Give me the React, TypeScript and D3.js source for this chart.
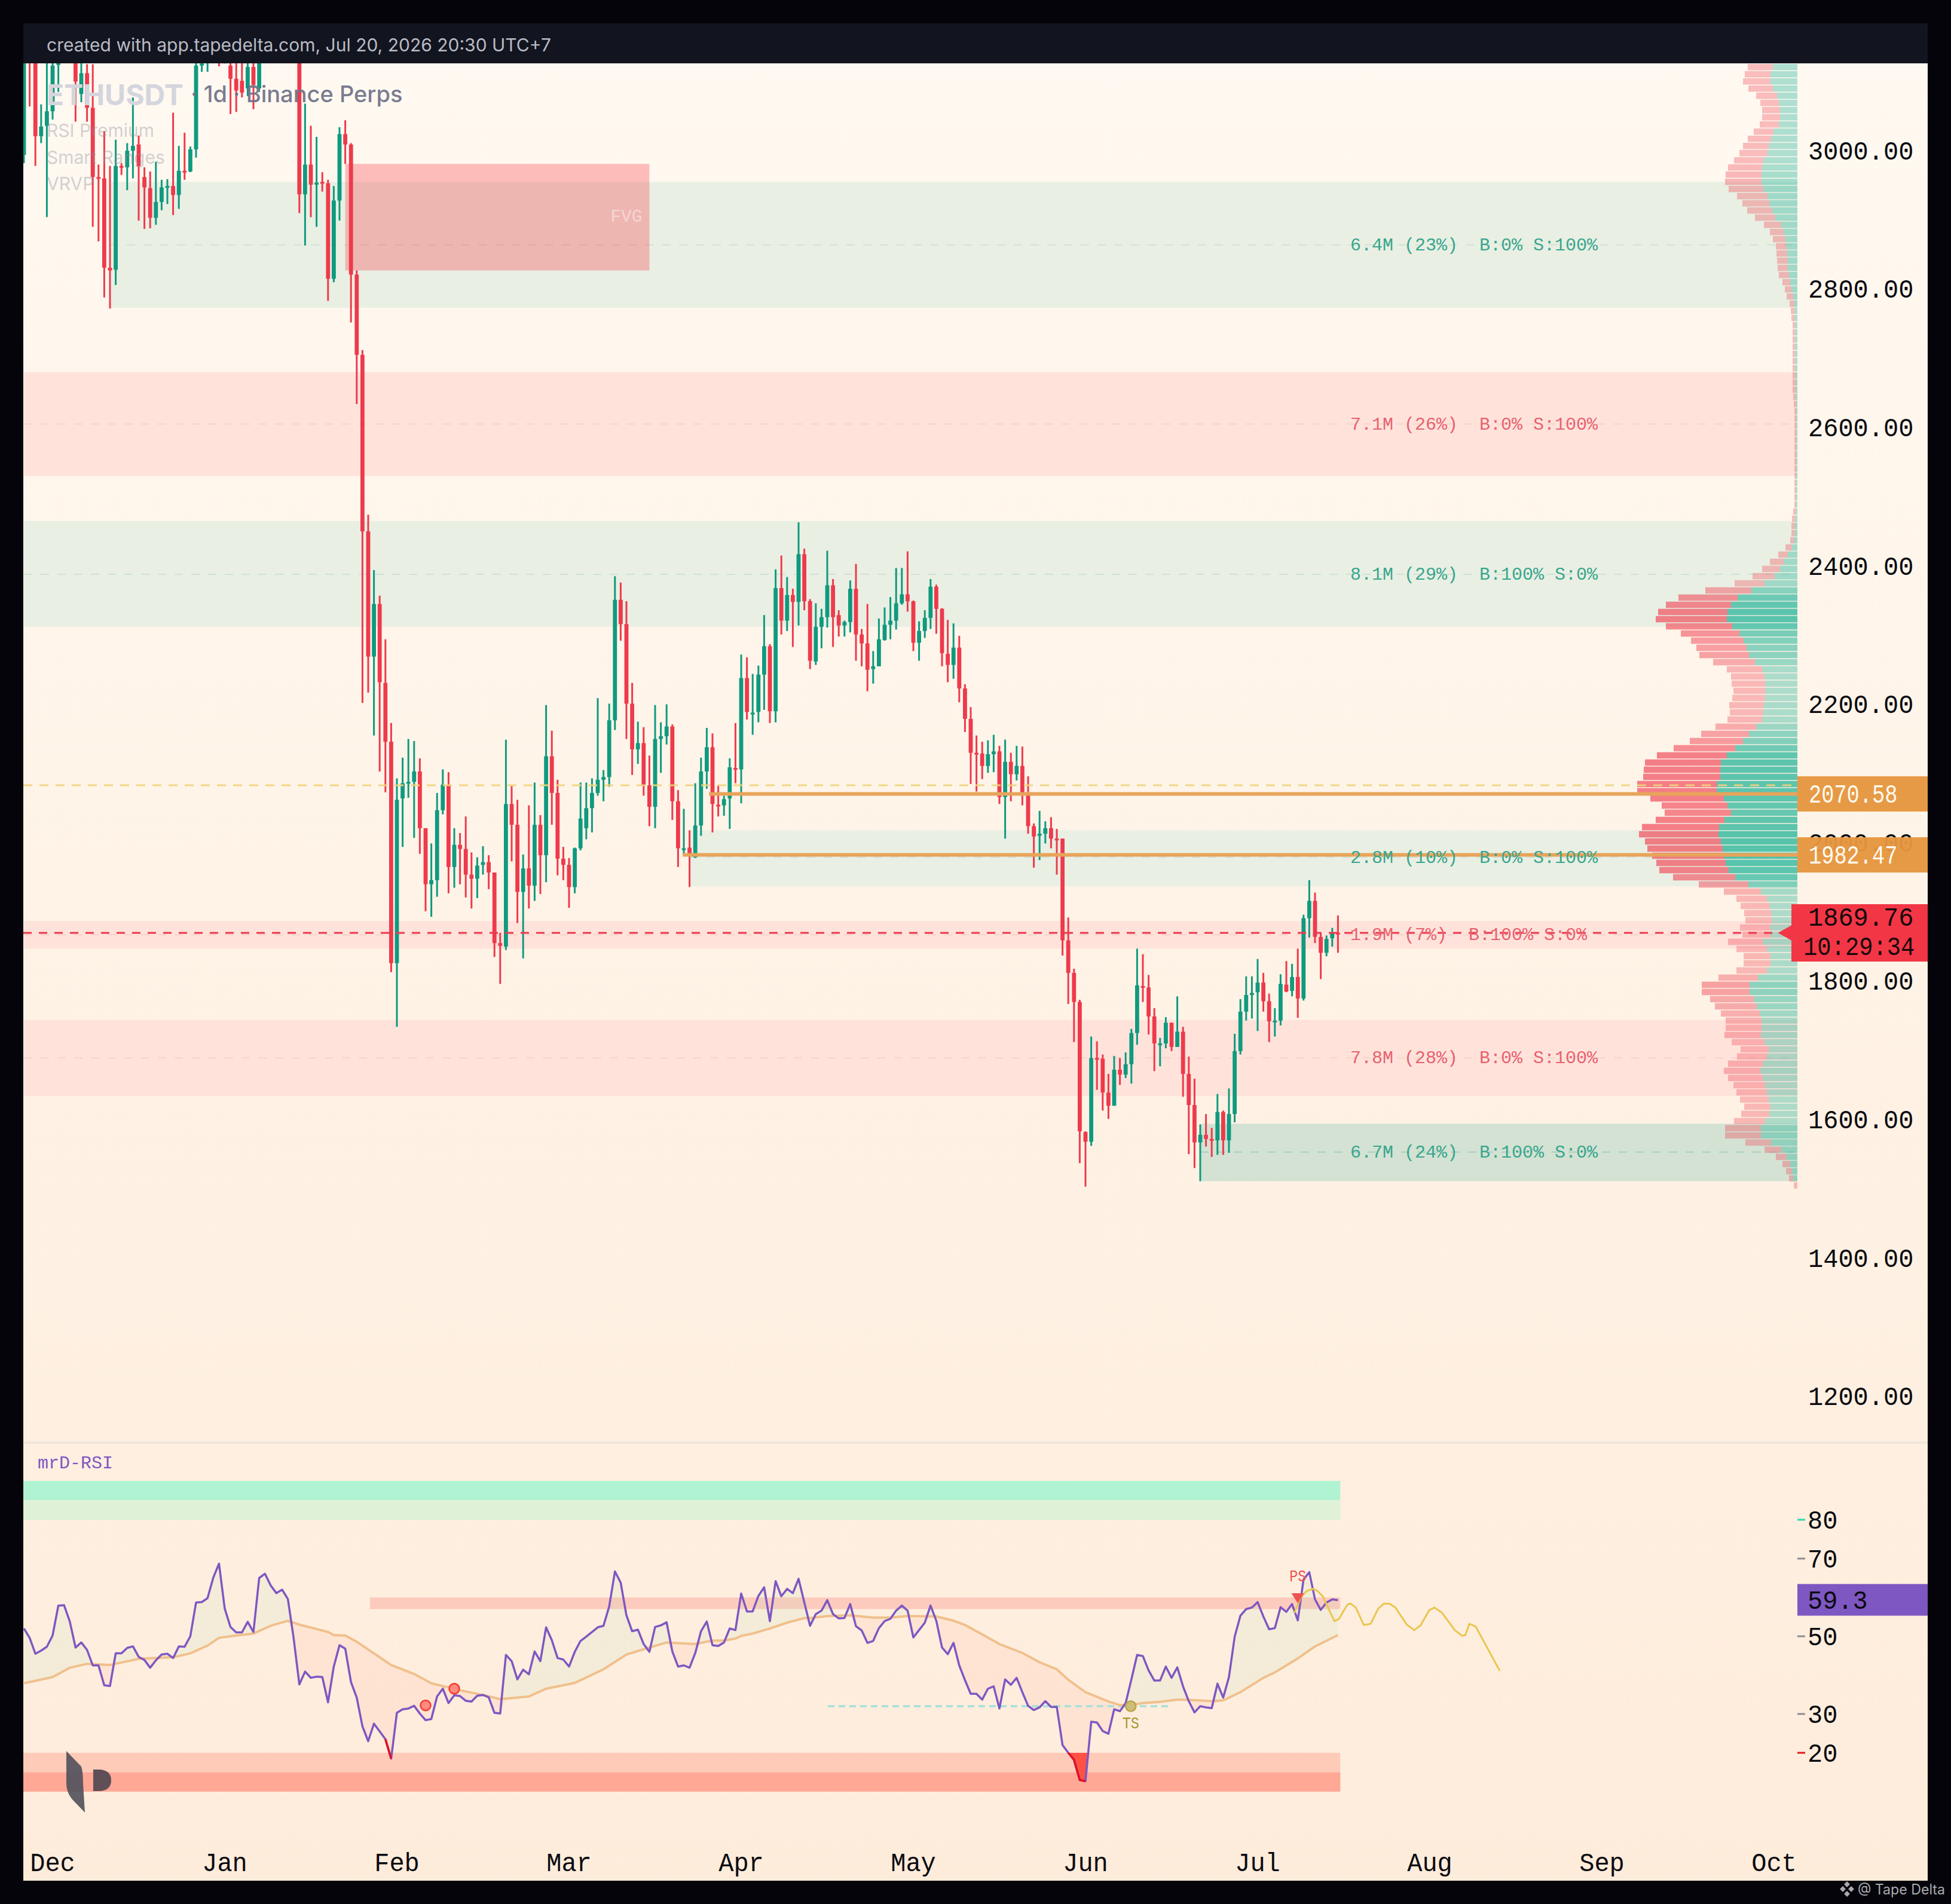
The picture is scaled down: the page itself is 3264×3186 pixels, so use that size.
import React from "react";
import * as d3 from "d3";

const W = 3264, H = 3186;

// ---------- candles (one entry per daily bar, USDT) ----------
const opens = [2994,3140,3135,3021,3036,3057,3124,3180,3150,3140,3082,3112,3062,2962,2960,2831,2828,2978,2976,3000,3009,2962,2946,2903,2926,2948,2949,2936,2971,2970,3002,3123,3128,3140,3135,3128,3123,3104,3101,3090,3121,3090,3135,3170,3200,3185,3170,3190,3160,2937,2980,2951,2955,2953,2815,2928,3024,3009,2821,2705,
2450,2269,2345,2231,2146,1826,2064,2087,2088,2103,2021,1940,1946,2047,2084,1965,1997,1991,1954,1948,1968,1972,1957,1855,1850,2056,2026,1929,1963,1938,2026,1982,2125,2072,1977,1968,1936,1992,2021,2050,2072,2091,2095,2177,2351,2316,2201,2135,2144,2083,2052,2150,2154,2168,2060,1990,1993,1979,2025,2103,2138,2055,2054,2064,2108,2106,2238,2186,2189,2243,2284,2190,2368,2321,2358,2348,2417,2349,2262,2312,2326,2372,2329,2314,2319,2367,2301,2288,2251,2255,2293,2315,2321,2346,2359,2349,2289,2306,2325,2370,2338,2273,2257,2282,2223,2179,2130,2129,2111,2128,2132,2066,2117,2099,2111,2070,2024,2010,2013,2021,2006,2006,1859,1812,1770,1582,1568,1689,1688,1639,1620,1672,1665,1680,1725,1793,1791,1749,1708,1710,1740,1705,1727,1666,1621,1567,1578,1572,1570,1611,1570,1608,1699,1756,1780,1784,1798,1771,1742,1743,1795,1786,1806,1775,1891,1916,1864,1841,1862,1870];
const highs = [3135,3150,3140,3067,3130,3135,3150,3190,3190,3160,3130,3125,3125,2980,3028,2978,3016,2982,3011,3077,3022,2976,2970,2984,2958,2959,3055,3007,3026,3006,3130,3135,3150,3170,3150,3150,3140,3130,3130,3130,3130,3135,3180,3215,3230,3210,3205,3200,3175,3068,3036,3020,2969,2958,2949,3034,3044,3011,2827,2712,
2474,2394,2357,2294,2173,2093,2123,2150,2147,2122,2021,1999,2072,2106,2102,2021,2014,2038,1986,1979,1995,1982,1957,1870,2149,2082,2062,1983,2054,2087,2040,2199,2162,2091,1994,1978,1993,2087,2087,2093,2209,2105,2201,2385,2376,2349,2231,2175,2167,2126,2199,2174,2200,2171,2076,2049,2018,2086,2123,2166,2158,2083,2068,2122,2173,2272,2268,2244,2256,2329,2287,2395,2415,2384,2367,2463,2425,2352,2346,2338,2422,2381,2336,2321,2379,2403,2309,2345,2277,2324,2340,2355,2397,2397,2421,2350,2320,2336,2381,2373,2339,2322,2317,2299,2229,2196,2155,2146,2148,2156,2140,2149,2130,2140,2139,2096,2028,2046,2031,2037,2020,2006,1892,1818,1773,1583,1720,1713,1694,1666,1692,1689,1697,1731,1847,1839,1809,1761,1718,1748,1740,1778,1734,1691,1659,1593,1608,1588,1637,1613,1645,1724,1774,1807,1807,1832,1812,1782,1761,1810,1829,1825,1847,1896,1946,1928,1869,1866,1877,1895];
const lows = [2982,3064,2978,3011,2904,3045,3085,3130,3130,3042,3070,3042,2890,2869,2788,2772,2806,2965,2943,2960,2899,2887,2888,2893,2914,2923,2907,2916,2958,2969,2990,3114,3114,3130,3122,3126,3053,3056,3077,3079,3060,3085,3130,3160,3190,3160,3150,3150,2910,2863,2904,2890,2941,2783,2810,2899,2981,2752,2634,2202,
2217,2155,2103,2073,1813,1734,1994,2065,2007,1984,1901,1893,1922,2041,1927,1935,1940,1921,1905,1920,1954,1933,1835,1796,1845,1973,1884,1833,1905,1916,1926,1943,2026,1953,1946,1906,1927,1989,2005,2015,2068,2060,2081,2163,2292,2150,2098,2114,2068,2024,2021,2101,2142,2033,1965,1982,1936,1978,2010,2078,2015,2038,2039,2020,2086,2057,2178,2156,2174,2192,2173,2174,2301,2306,2283,2314,2336,2251,2257,2281,2311,2283,2298,2298,2304,2263,2255,2219,2230,2255,2292,2294,2308,2344,2334,2277,2263,2296,2309,2302,2255,2232,2237,2203,2160,2085,2074,2092,2101,2102,2056,2006,2060,2090,2054,2013,1964,1975,1999,1992,1954,1837,1767,1712,1537,1503,1562,1643,1613,1601,1620,1650,1660,1652,1708,1770,1723,1670,1677,1703,1699,1705,1633,1550,1530,1511,1561,1546,1549,1549,1552,1596,1694,1743,1746,1728,1756,1712,1720,1736,1784,1778,1747,1772,1863,1855,1803,1836,1850,1841];
const closes = [3130,3128,3021,3035,3057,3123,3135,3150,3175,3100,3112,3062,2962,2960,2831,2827,2978,2976,3000,3007,2978,2947,2903,2926,2947,2949,2936,2971,2970,3002,3123,3126,3140,3155,3128,3135,3104,3087,3084,3121,3095,3128,3170,3200,3185,3170,3190,3160,2937,2980,2951,2954,2953,2815,2928,3024,3009,2821,2705,2450,
2269,2345,2232,2146,1826,2062,2086,2088,2103,2021,1940,1946,2047,2084,1965,1997,1991,1954,1948,1967,1972,1957,1855,1851,2056,2026,1929,1963,1938,2026,1982,2125,2072,1977,1968,1936,1992,2035,2050,2072,2091,2095,2177,2351,2316,2201,2135,2144,2083,2052,2150,2154,2168,2060,1992,1992,1982,2025,2103,2138,2056,2054,2063,2109,2107,2238,2189,2188,2243,2284,2190,2368,2321,2358,2348,2417,2349,2263,2312,2326,2372,2326,2314,2319,2367,2301,2288,2250,2255,2294,2315,2321,2346,2359,2349,2289,2306,2325,2370,2338,2274,2257,2282,2223,2179,2130,2128,2111,2128,2132,2066,2117,2099,2111,2072,2024,2009,2013,2021,2006,2004,1859,1812,1770,1583,1568,1689,1687,1639,1620,1672,1665,1680,1725,1794,1791,1749,1710,1710,1740,1705,1727,1666,1621,1567,1578,1572,1570,1611,1570,1608,1699,1756,1780,1783,1798,1771,1742,1743,1796,1785,1806,1775,1891,1916,1864,1841,1861,1870,1869.76];

// ---------- volume zones ----------
const zoneStart = [15, 0, 0, 116, 0, 0, 205];
const zoneTop = [2955, 2680, 2465, 2018, 1887, 1744, 1594];
const zoneBottom = [2773, 2530, 2312, 1937, 1847, 1634, 1511];
const zoneMid = [2864, 2605, 2388, 1979, 1867, 1689, 1553];
const zoneKind = ["bull", "bear", "bull", "bull", "bear", "bear", "bull2"];
const zoneLabels = [
  "6.4M (23%)  B:0% S:100%",
  "7.1M (26%)  B:0% S:100%",
  "8.1M (29%)  B:100% S:0%",
  "2.8M (10%)  B:0% S:100%",
  "1.9M (7%)  B:100% S:0%",
  "7.8M (28%)  B:0% S:100%",
  "6.7M (24%)  B:100% S:0%",
];

// ---------- volume profile: one row per price bin, thousands of contracts ----------
const profileTopPrice = 3125.4;
const profileBinSize = 10.36;
const profileBuy = [41,45,45,41,34,31,29,29,31,40,44,48,50,57,59,60,60,57,50,47,42,37,27,23,20,18,17,16,16,14,12,10,7,5,5,5,4,4,4,4,4,4,4,4,4,4,4,3,3,3,3,3,3,3,3,3,3,3,3,3,3,3,3,4,4,4,5,9,16,23,29,38,55,77,100,111,117,118,109,97,90,85,81,71,59,55,54,54,54,56,57,59,69,81,91,104,118,128,129,129,135,135,123,117,111,122,131,132,128,125,122,120,115,104,82,61,51,46,44,43,46,45,58,51,45,45,51,66,80,80,73,68,63,60,60,61,55,48,51,58,62,58,54,51,48,45,47,54,61,61,44,27,18,12,9,7,0];
const profileSell = [42,43,46,41,35,31,30,30,32,33,39,43,47,49,57,60,61,58,51,45,42,34,29,23,21,18,18,18,17,17,13,11,11,8,6,5,4,4,4,4,4,4,4,4,4,4,3,3,2,2,2,2,2,2,2,2,2,2,2,2,2,2,4,5,6,6,7,11,16,23,30,37,50,77,99,109,116,119,111,98,88,84,83,70,59,56,56,53,55,58,56,58,68,80,89,103,117,127,128,129,133,133,123,110,111,115,129,133,127,126,121,116,116,104,83,62,51,49,45,44,50,47,58,51,45,45,51,66,80,80,73,70,65,60,60,61,55,47,50,58,61,58,53,51,48,44,47,52,60,60,43,28,18,13,10,7,6];

// ---------- levels ----------
const fvgStart = 56, fvgEnd = 109, fvgTop = 2981, fvgBottom = 2827;
const orderLevels = [2070.58, 1982.47];
const orderStarts = [119.4, 114.8];
const yellowLevel = 2083;
const lastPrice = 1869.76;
const countdown = "10:29:34";
const priceTicks = [3000, 2800, 2600, 2400, 2200, 2000, 1800, 1600, 1400, 1200];

// ---------- time axis ----------
const monthLabels = ["Dec", "Jan", "Feb", "Mar", "Apr", "May", "Jun", "Jul", "Aug", "Sep", "Oct"];
const monthIndex = [5, 35, 65, 95, 125, 155, 185, 215, 245, 275, 305];

// ---------- RSI ----------
const rsi = [52,49.6,45.5,46.3,47.3,50.2,57.9,58,53.8,47.1,48.4,46.5,42.5,42.5,37.4,37.2,45.6,45.6,47,47.4,44.7,43.9,41.9,43.8,45.3,45.5,44.4,47.4,47.3,50,58.7,58.8,59.8,65.1,68.7,57.1,52.4,51,51,53.7,51.1,65,66.1,63.1,61.1,62,59.6,49.6,37.6,40.9,39.3,39.6,39.5,33,42.2,47.7,46.8,38.2,34.2,26.8,23,27.5,25.5,23.5,18.5,30.3,31.2,31.4,32.1,30.1,28.4,28.7,34.5,36.5,32.8,34.8,34.6,33.4,33.2,34.7,34.9,34.3,30.3,30.1,45.2,43.6,38.9,41.4,40.2,46.1,43.6,52.3,49,44.4,44,42.2,46,48.8,49.9,51.1,52.3,52.7,57.7,66.7,63.8,55.4,51.3,51.7,48,46,52.4,52.8,53.6,46.1,42.2,42.5,41.9,45.7,51.3,53.8,
47.7,47.5,48.4,52,51.6,61,56.4,56.4,60.4,62.6,53.9,64.2,60.3,62.2,61.1,64.8,58.7,52.7,55.7,56.6,59.3,55.7,54.6,54.7,58.3,52.6,51.5,48.3,48.8,52.1,53.9,54.5,56.6,57.9,56.6,49.7,51.6,53.5,57.9,54,47.1,45.4,48.3,42.5,38.7,35.2,35.2,33.7,36.5,37.1,31.4,38.9,37.5,39.3,35.6,32.1,31,31.7,33.3,31.8,31.8,
22,20,18.2,13,12.7,28,27.8,25.6,24.9,31.2,30.7,32.8,38.9,45.2,44.9,41.2,38.6,38.6,42.2,39.3,42,37.1,33.3,30.4,32,31.7,31.5,37.8,34.2,39.5,49.9,55.3,57,57.4,58.8,55.1,51.8,52.1,57.5,56.3,58.3,54.1,64.6,66.5,59.5,56.8,58.7,59.5,59.3];
const rsiMaIndex = [0,5,8,11,15,20,26,29,32,34,37,40,43,46,48,53,54,56,58,64,68,71,76,80,83,88,91,96,101,105,109,112,117,120,122,124,125,127,130,133,136,137,140,144,148,151,154,159,162,164,167,170,174,177,180,182,185,189,191,193,195,198,201,203,207,209,212,216,218,222,225,229];
const rsiMa = [37.9,39.5,41.9,42.9,42.6,44.2,44.6,45.6,47.6,49.6,50.2,50.7,52.7,54,53,51.1,50.3,50.2,48.6,42.6,40.3,37.9,36.1,34.9,33.8,34.5,36.5,38,41.5,45.3,47.1,48.4,48,48.9,48.9,49.4,50.1,50.7,52,53.5,54.7,54.7,55.2,55.4,54.8,54.8,55.2,55.1,54,52.9,50.5,48,45.7,43.3,41.5,38.8,35.6,33.2,32.3,32.3,32.8,33.1,33.7,33.6,33.3,33.5,35.6,39.3,40.7,44.3,47.4,50.3];
const forecastIndex = [221.4,222.6,223.6,224.7,225.4,226.4,227.4,228.4,229.2,230,230.7,231.2,232.1,233.5,234.7,236,237,238,239,241,242.3,243.4,244.9,245.8,247.1,249.4,250.7,251.2,251.9,253,257.2];
const forecast = [56,60.2,61.7,62.2,61.7,60.2,56.9,53.9,54.5,56.6,58.2,58.4,57.4,52.9,53.2,57.1,58.4,58.4,57.4,53,51.6,52.8,56.7,57.4,56.1,51.5,50.1,50.3,53.2,52.5,41.1];
const rsiTicks = [80, 70, 50, 30, 20];
const rsiTickColors = ["#2ed8ab", "#8f8c92", "#8f8c92", "#8f8c92", "#e01818"];
const signalDotIndex = [70, 75];
const signalDotValue = [32.2, 36.5];
const extremeIndex = [182, 183, 184, 185, 185.45];
const extremeValue = [20, 18.2, 13, 12.7, 20];
const redSegments = [[63, 64], [182, 183, 184, 185]];
const rsiBandLevel = 32;
const rsiBandStart = 140.1, rsiBandEnd = 199.5;
const rsiLast = 59.3;
const tsIndex = 192.9, psIndex = 222;

const MONO = "'Liberation Mono', monospace";
const SANS = "Inter, 'Noto Sans', sans-serif";

function AxisText({ x, y, t, fill = "#0b0b10", perChar = 25.2, anchor = "start" }: any) {
  return (
    <text x={x} y={y + 3} textAnchor={anchor} dominantBaseline="central" fontFamily={MONO} fontSize={45} fill={fill} textLength={String(t).length * perChar} lengthAdjust="spacingAndGlyphs">{t}</text>
  );
}

export default function App() {
  const chartL = 39, axisX = 3007, chartR = 3225, chartT = 106, chartB = 3147, paneB = 2414;

  const x = d3.scaleLinear().domain([0, 305]).range([40, 2968]);
  const y = d3.scaleLinear().domain([2400, 1200]).range([947, 2336.6]);
  const ry = d3.scaleLinear().domain([80, 20]).range([2543, 2933]);
  const vol = d3.scaleLinear().domain([0, 100]).range([0, 100]);
  const alpha = d3.scaleLinear().domain([110, 240]).range([0.36, 0.72]).clamp(true);

  const maAt = d3.scaleLinear().domain(rsiMaIndex).range(rsiMa);
  const idx = d3.range(rsi.length);
  const rsiLine = d3.line<number>().x((i) => x(i)).y((i) => ry(rsi[i]));
  const maLine = d3.line<number>().x((_, k) => x(rsiMaIndex[k])).y((_, k) => ry(rsiMa[k]));
  const fcLine = d3.line<number>().x((_, k) => x(forecastIndex[k])).y((_, k) => ry(forecast[k]));
  const areaUp = d3.area<number>().x((i) => x(i)).y0((i) => ry(maAt(i))).y1((i) => ry(Math.max(rsi[i], maAt(i))));
  const areaDn = d3.area<number>().x((i) => x(i)).y0((i) => ry(maAt(i))).y1((i) => ry(Math.min(rsi[i], maAt(i))));
  const extreme = d3.area<number>().x((_, k) => x(extremeIndex[k])).y0(() => ry(20)).y1((_, k) => ry(extremeValue[k]));

  const zoneFill: Record<string, string> = { bull: "#e9efe3", bull2: "#d3e2d3", bear: "#ffe3db" };
  const zoneDash: Record<string, string> = { bull: "#cfe2d7", bull2: "#a8d0c0", bear: "#f6d3cc" };
  const zoneText: Record<string, string> = { bull: "#38a68e", bull2: "#38a68e", bear: "#e8616f" };
  const GREEN = "#0f9a7f", RED = "#ee3a4c";

  return (
    <svg width={W} height={H} viewBox={`0 0 ${W} ${H}`} style={{ position: "absolute", left: 0, top: 0, display: "block" }}>
      <defs>
        <linearGradient id="bg" x1="0" y1="0" x2="0" y2="1">
          <stop offset="0" stopColor="#fff9f1" />
          <stop offset="1" stopColor="#feecdb" />
        </linearGradient>
        <clipPath id="main">
          <rect x={chartL} y={chartT} width={axisX - chartL} height={paneB - chartT} />
        </clipPath>
      </defs>
      <rect width={W} height={H} fill="#04040a" />
      <rect x={chartL} y={chartT} width={chartR - chartL} height={chartB - chartT} fill="url(#bg)" />

      <g clipPath="url(#main)">
        {zoneTop.map((t, k) => (
          <rect key={k} x={Math.max(chartL, x(zoneStart[k]))} y={y(t)} width={axisX - Math.max(chartL, x(zoneStart[k]))} height={y(zoneBottom[k]) - y(t)} fill={zoneFill[zoneKind[k]]} />
        ))}
        {zoneMid.map((m, k) => (
          <line key={k} x1={Math.max(chartL, x(zoneStart[k]))} x2={axisX} y1={y(m)} y2={y(m)} stroke={zoneDash[zoneKind[k]]} strokeWidth={2} strokeDasharray="14 14" />
        ))}
        <rect x={x(fvgStart)} y={y(fvgTop)} width={x(fvgEnd) - x(fvgStart)} height={y(fvgBottom) - y(fvgTop)} fill="rgba(250,62,72,0.32)" />
        <text x={x(fvgEnd) - 12} y={y((fvgTop + fvgBottom) / 2)} textAnchor="end" dominantBaseline="central" fontFamily={MONO} fontSize={30} fill="rgba(255,255,255,0.45)" textLength={53} lengthAdjust="spacingAndGlyphs">FVG</text>

        {profileBuy.map((b, n) => {
          const s = profileSell[n];
          const top = y(profileTopPrice - n * profileBinSize);
          const h = 10.6;
          const a = alpha(b + s);
          return (
            <g key={n}>
              <rect x={axisX - vol(b)} y={top} width={vol(b)} height={h} fill="#1eb296" fillOpacity={a} />
              <rect x={axisX - vol(b) - vol(s)} y={top} width={vol(s)} height={h} fill="#f0505f" fillOpacity={a} />
            </g>
          );
        })}

        {opens.map((o, i) => {
          const c = closes[i];
          const col = c >= o ? GREEN : RED;
          const top = y(Math.max(o, c));
          const bot = y(Math.min(o, c));
          return (
            <g key={i}>
              <line x1={x(i)} x2={x(i)} y1={y(highs[i])} y2={y(lows[i])} stroke={col} strokeWidth={3} />
              <rect x={x(i) - 3.4} y={top} width={6.8} height={Math.max(3, bot - top)} fill={col} />
            </g>
          );
        })}

        <line x1={chartL} x2={axisX} y1={y(yellowLevel)} y2={y(yellowLevel)} stroke="#efd47c" strokeOpacity={0.9} strokeWidth={3} strokeDasharray="15 12" />
        {orderLevels.map((l, k) => (
          <line key={k} x1={x(orderStarts[k])} x2={axisX} y1={y(l)} y2={y(l)} stroke="#e8a45a" strokeWidth={6} />
        ))}
        <line x1={chartL} x2={axisX} y1={y(lastPrice)} y2={y(lastPrice)} stroke="#ea394e" strokeWidth={3} strokeDasharray="14 12" />

        {zoneLabels.map((t, k) => (
          <text key={k} x={2259} y={y(zoneMid[k]) + 1} dominantBaseline="central" fontFamily={MONO} fontSize={30} xmlSpace="preserve" style={{ whiteSpace: "pre" }} fill={zoneText[zoneKind[k]]}>{t}</text>
        ))}
      </g>

      {/* RSI pane */}
      <line x1={chartL} x2={chartR} y1={paneB} y2={paneB} stroke="#ece4da" strokeWidth={3} />
      <text x={63} y={2449} dominantBaseline="central" fontFamily={MONO} fontSize={30} fill="#7e57c2">mrD-RSI</text>
      <rect x={chartL} y={ry(90)} width={x(229.4) - chartL} height={ry(85) - ry(90)} fill="#b0f3d3" />
      <rect x={chartL} y={ry(85)} width={x(229.4) - chartL} height={ry(80) - ry(85)} fill="#dff2d8" />
      <rect x={chartL} y={ry(20)} width={x(229.4) - chartL} height={ry(15) - ry(20)} fill="#fecbb8" />
      <rect x={chartL} y={ry(15)} width={x(229.4) - chartL} height={ry(10) - ry(15)} fill="#ffa896" />
      <rect x={x(60.3)} y={ry(60)} width={x(229.4) - x(60.3)} height={ry(57) - ry(60)} fill="#fdcbbd" />

      <path d={areaUp(idx) ?? ""} fill="rgba(170,222,180,0.13)" />
      <path d={areaDn(idx) ?? ""} fill="rgba(255,130,100,0.09)" />
      <line x1={x(rsiBandStart)} x2={x(rsiBandEnd)} y1={ry(rsiBandLevel)} y2={ry(rsiBandLevel)} stroke="#a5dfd9" strokeWidth={3.5} strokeDasharray="11 7" />
      <path d={maLine(rsiMa) ?? ""} fill="none" stroke="#f0c08c" strokeWidth={4} />
      <path d={extreme(extremeIndex) ?? ""} fill="#ff5245" />
      <path d={rsiLine(idx) ?? ""} fill="none" stroke="#7e57c2" strokeWidth={3.5} strokeLinejoin="round" />
      {redSegments.map((seg, k) => (
        <path key={k} d={rsiLine(seg) ?? ""} fill="none" stroke="#e5101e" strokeWidth={3.5} />
      ))}
      <path d={fcLine(forecast) ?? ""} fill="none" stroke="#e9c64e" strokeWidth={3} />
      {signalDotIndex.map((i, k) => (
        <circle key={k} cx={x(i)} cy={ry(signalDotValue[k])} r={8.5} fill="#ff8a80" stroke="#f23b30" strokeWidth={2.5} />
      ))}
      <circle cx={x(tsIndex)} cy={ry(32)} r={8.5} fill="#d0bd7c" stroke="#bba548" strokeWidth={2.5} />
      <text x={x(tsIndex)} y={2885} textAnchor="middle" dominantBaseline="central" fontFamily={MONO} fontSize={27} textLength={28} lengthAdjust="spacingAndGlyphs" fill="#a8962e">TS</text>
      <path d={`M${x(psIndex) - 10.5},2666 L${x(psIndex) + 10.5},2666 L${x(psIndex)},2683 Z`} fill="#ef5350" />
      <text x={x(psIndex)} y={2639} textAnchor="middle" dominantBaseline="central" fontFamily={MONO} fontSize={27} textLength={28} lengthAdjust="spacingAndGlyphs" fill="#ef5350">PS</text>

      {/* logo */}
      <path d="M111,2930 L136,2956 Q139,2965 139,2985 L142,3033 L120,3010 Q111,2998 111,2985 Z" fill="#54535c" fillOpacity={0.92} />
      <path d="M156,2961 L168,2961 Q186,2963 186,2979 Q186,2995 168,2997 L156,2997 Z" fill="#5f4f56" />

      {/* price axis */}
      {priceTicks.map((p) => (
        <AxisText key={p} x={3025} y={y(p)} t={p.toFixed(2)} />
      ))}
      {orderLevels.map((l) => (
        <g key={l}>
          <rect x={axisX} y={y(l) - 29.5} width={chartR - axisX} height={59} fill="#e6963f" fillOpacity={0.96} />
          <AxisText x={3026} y={y(l)} t={l.toFixed(2)} fill="#fffaf0" perChar={21.2} />
        </g>
      ))}
      <path d={`M2974.5,${y(lastPrice)} L2997,${y(lastPrice) - 12.5} L2997,1513 L${chartR},1513 L${chartR},1609 L2997,1609 L2997,${y(lastPrice) + 12.5} Z`} fill="#f23645" />
      <AxisText x={3025} y={1534} t={lastPrice.toFixed(2)} fill="#16090c" />
      <AxisText x={3017} y={1583} t={countdown} fill="#16090c" perChar={23.3} />

      {/* RSI axis */}
      {rsiTicks.map((t, k) => (
        <g key={t}>
          <line x1={axisX} x2={3020} y1={ry(t)} y2={ry(t)} stroke={rsiTickColors[k]} strokeWidth={3} />
          <AxisText x={3024} y={ry(t)} t={String(t)} />
        </g>
      ))}
      <rect x={axisX} y={ry(rsiLast) - 27} width={chartR - axisX} height={53} fill="#7e57c2" />
      <AxisText x={3024} y={ry(rsiLast)} t={String(rsiLast)} />

      {/* time axis */}
      {monthLabels.map((m, k) => (
        <AxisText key={m} x={x(monthIndex[k]) - 37.8} y={3116} t={m} />
      ))}

      {/* watermark legend */}
      <text x={78} y={158} dominantBaseline="central" fontFamily={SANS} fontSize={48} fontWeight={700} fill="#d4d5dd">ETHUSDT</text>
      <text x={319} y={157} dominantBaseline="central" fontFamily={SANS} fontSize={38} fontWeight={500} fill="#71738a" fillOpacity={0.95} xmlSpace="preserve" style={{ whiteSpace: "pre" }}>· 1d · Binance Perps</text>
      <text x={78} y={218} dominantBaseline="central" fontFamily={SANS} fontSize={30} fill="#8c8c9c" fillOpacity={0.4}>RSI Premium</text>
      <text x={78} y={263} dominantBaseline="central" fontFamily={SANS} fontSize={30} fill="#8c8c9c" fillOpacity={0.4}>Smart Ranges</text>
      <text x={78} y={307} dominantBaseline="central" fontFamily={SANS} fontSize={30} fill="#8c8c9c" fillOpacity={0.4}>VRVP</text>

      {/* header */}
      <rect x={chartL} y={39} width={chartR - chartL} height={67} fill="#12141f" />
      <text x={78} y={75} dominantBaseline="central" fontFamily={SANS} fontSize={30} fill="#b9bbc4">created with app.tapedelta.com, Jul 20, 2026 20:30 UTC+7</text>

      {/* footer */}
      <g fill="#a9aab0">
        {[[3090, 3153], [3083, 3161], [3097, 3161], [3090, 3169]].map(([cx, cy], k) => (
          <rect key={k} x={cx - 3.5} y={cy - 3.5} width={7} height={7} transform={`rotate(45 ${cx} ${cy})`} />
        ))}
      </g>
      <text x={3108} y={3161} dominantBaseline="central" fontFamily={SANS} fontSize={24} fill="#a9aab0" textLength={146} lengthAdjust="spacingAndGlyphs">@ Tape Delta</text>
    </svg>
  );
}
